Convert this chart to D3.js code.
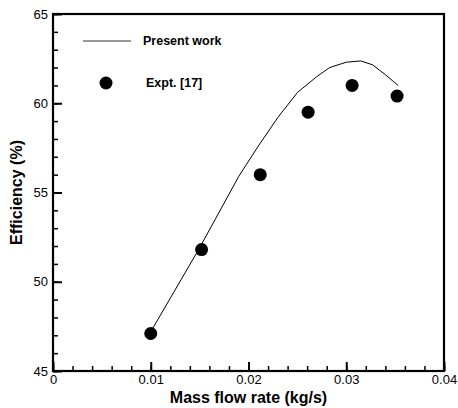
<!DOCTYPE html>
<html>
<head>
<meta charset="utf-8">
<script src="https://cdn.jsdelivr.net/npm/d3@7"></script>
<style>
  body { margin: 0; background: #fff; }
  text { font-family: "Liberation Sans", Arial, sans-serif; }
</style>
</head>
<body>
<div id="chart"></div>
<script>
// present work (line)
var lineX = [0.0100, 0.0150, 0.0190, 0.0210, 0.0230, 0.0250, 0.0270, 0.0283, 0.0300, 0.0315, 0.0327, 0.0340, 0.0353];
var lineY = [47.2, 51.9, 55.9, 57.6, 59.2, 60.6, 61.5, 62.0, 62.3, 62.37, 62.15, 61.6, 61.0];

// Expt. [17] (dots)
var exptX = [0.0100, 0.0152, 0.0212, 0.0261, 0.0306, 0.0352];
var exptY = [47.1, 51.8, 56.0, 59.5, 61.0, 60.4];

var xTicks = [0, 0.01, 0.02, 0.03, 0.04];
var yTicks = [45, 50, 55, 60, 65];

var width = 458, height = 408;
var margin = {top: 14, right: 14, bottom: 37, left: 53};
var w = width - margin.left - margin.right;
var h = height - margin.top - margin.bottom;

var svg = d3.select("#chart").append("svg")
    .attr("width", width)
    .attr("height", height);

var g = svg.append("g")
    .attr("transform", "translate(" + margin.left + "," + margin.top + ")");

var x = d3.scaleLinear().domain([0, 0.04]).range([0, w]);
var y = d3.scaleLinear().domain([45, 65]).range([h, 0]);

// minor ticks
var xMinor = d3.range(0, 0.0401, 0.002);
var yMinor = d3.range(45, 65.01, 1);

g.append("g")
    .attr("transform", "translate(0," + h + ")")
    .call(d3.axisBottom(x).tickValues(xMinor).tickSize(-5).tickFormat(""))
    .call(function(a) { a.select(".domain").remove(); })
    .selectAll("line").attr("stroke-width", 1.5);

g.append("g")
    .call(d3.axisLeft(y).tickValues(yMinor).tickSize(-5).tickFormat(""))
    .call(function(a) { a.select(".domain").remove(); })
    .selectAll("line").attr("stroke-width", 1.5);

// major ticks + labels
var xAxis = g.append("g")
    .attr("transform", "translate(0," + h + ")")
    .call(d3.axisBottom(x).tickValues(xTicks).tickSize(-9).tickPadding(2)
        .tickFormat(function(d) { return d === 0 ? "0" : d3.format(".2f")(d); }));
xAxis.select(".domain").remove();
xAxis.selectAll("line").attr("stroke-width", 2);
xAxis.selectAll("text").attr("y", 4).attr("dy", "0.71em")
    .style("font-size", "13px").attr("fill", "#000");

var yAxis = g.append("g")
    .call(d3.axisLeft(y).tickValues(yTicks).tickSize(-9).tickPadding(4));
yAxis.select(".domain").remove();
yAxis.selectAll("line").attr("stroke-width", 2);
yAxis.selectAll("text").attr("x", -5)
    .style("font-size", "13px").attr("fill", "#000");

// frame
g.append("rect")
    .attr("x", 0).attr("y", 0)
    .attr("width", w).attr("height", h)
    .attr("fill", "none")
    .attr("stroke", "#000")
    .attr("stroke-width", 2.2);

// line
var pts = lineX.map(function(d, i) { return [d, lineY[i]]; });
g.append("path")
    .datum(pts)
    .attr("fill", "none")
    .attr("stroke", "#000")
    .attr("stroke-width", 1)
    .attr("d", d3.line().x(function(d) { return x(d[0]); }).y(function(d) { return y(d[1]); }));

// dots
g.selectAll(".dot")
    .data(exptX.map(function(d, i) { return [d, exptY[i]]; }))
    .join("circle")
    .attr("class", "dot")
    .attr("cx", function(d) { return x(d[0]); })
    .attr("cy", function(d) { return y(d[1]); })
    .attr("r", 6.5)
    .attr("fill", "#000");

// legend
g.append("line")
    .attr("x1", 30).attr("x2", 78)
    .attr("y1", 27).attr("y2", 27)
    .attr("stroke", "#333").attr("stroke-width", 1);
g.append("text")
    .attr("x", 90).attr("y", 31)
    .style("font-size", "12.5px").style("font-weight", "bold")
    .text("Present work");
g.append("circle")
    .attr("cx", 53).attr("cy", 69).attr("r", 6.5).attr("fill", "#000");
g.append("text")
    .attr("x", 93).attr("y", 73)
    .style("font-size", "12.5px").style("font-weight", "bold")
    .text("Expt. [17]");

// axis titles
svg.append("text")
    .attr("x", margin.left + w / 2)
    .attr("y", 403)
    .attr("text-anchor", "middle")
    .style("font-size", "16px").style("font-weight", "bold")
    .text("Mass flow rate (kg/s)");

svg.append("text")
    .attr("transform", "translate(22," + (margin.top + h / 2) + ") rotate(-90)")
    .attr("text-anchor", "middle")
    .style("font-size", "16px").style("font-weight", "bold")
    .text("Efficiency (%)");
</script>
</body>
</html>
